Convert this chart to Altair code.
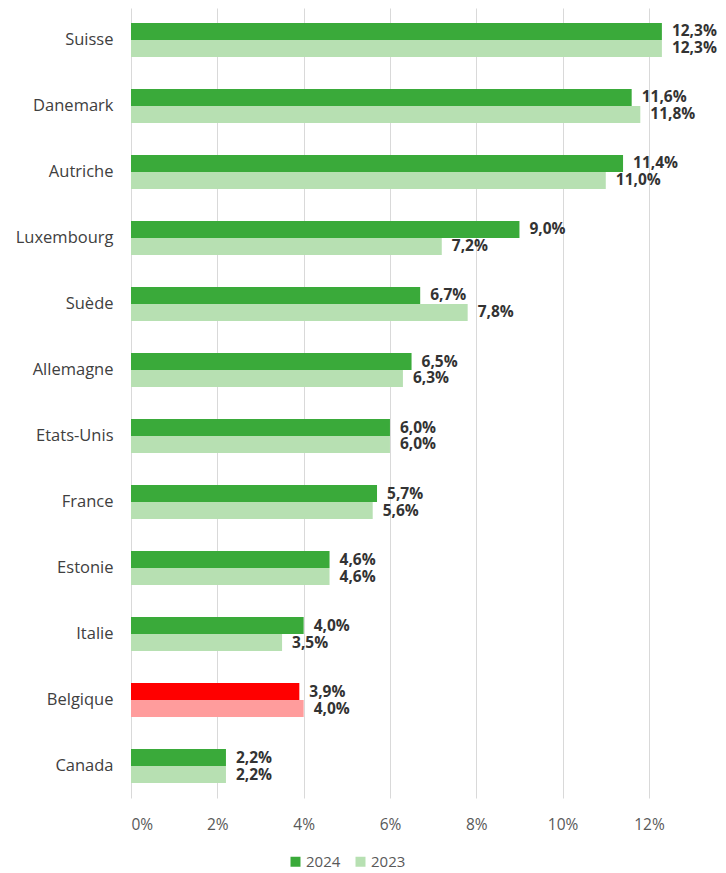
import altair as alt
import pandas as pd

countries = ["Suisse", "Danemark", "Autriche", "Luxembourg", "Suède", "Allemagne",
             "Etats-Unis", "France", "Estonie", "Italie", "Belgique", "Canada"]
v2024 = [12.3, 11.6, 11.4, 9.0, 6.7, 6.5, 6.0, 5.7, 4.6, 4.0, 3.9, 2.2]
v2023 = [12.3, 11.8, 11.0, 7.2, 7.8, 6.3, 6.0, 5.6, 4.6, 3.5, 4.0, 2.2]
series = ["2024", "2023"]
highlight = "Belgique"

rows = []
for c, a, b in zip(countries, v2024, v2023):
    for s, v in zip(series, [a, b]):
        key = s + (" BE" if c == highlight else "")
        rows.append({"pays": c, "annee": s, "valeur": v, "cle": key})
df = pd.DataFrame(rows)

FONT = "Open Sans"

y_scale = alt.Scale(domain=countries, paddingInner=0.485, paddingOuter=0.227)

base = alt.Chart(df).encode(
    y=alt.Y("pays:N", sort=countries, scale=y_scale,
            axis=alt.Axis(title=None, ticks=False, domain=False, labelFontSize=16.5,
                          labelColor="#404040", labelPadding=18, labelFont=FONT,
                          minExtent=123, maxExtent=123)),
    yOffset=alt.YOffset("annee:N", sort=series, scale=alt.Scale(domain=series, paddingInner=0)),
)

bars = base.mark_bar().encode(
    x=alt.X("valeur:Q", scale=alt.Scale(domain=[0, 13.6], nice=False),
            axis=alt.Axis(title=None, values=[0, 2, 4, 6, 8, 10, 12],
                          labelExpr="datum.value + '%'", ticks=False, domain=False,
                          grid=True, gridColor="#d9d9d9", gridWidth=1,
                          labelFontSize=15.5, labelColor="#595959", labelPadding=19,
                          labelFont=FONT)),
    color=alt.Color("cle:N",
                    scale=alt.Scale(domain=["2024", "2023", "2024 BE", "2023 BE"],
                                    range=["#3aaa3a", "#b7e0b2", "#ff0000", "#ff9c9c"]),
                    legend=alt.Legend(title=None, values=["2024", "2023"], orient="none",
                                      direction="horizontal", legendX=157, legendY=846,
                                      symbolType="square", symbolSize=100,
                                      symbolStrokeWidth=0, labelFontSize=15,
                                      labelColor="#595959", labelFont=FONT,
                                      columnPadding=12, labelOffset=3)),
)

labels = base.transform_calculate(
    lab="replace(format(datum.valeur, '.1f'), '.', ',') + '%'"
).mark_text(align="left", baseline="middle", dx=10, fontSize=15.5, fontWeight="bold",
            color="#333333", font=FONT).encode(
    x="valeur:Q",
    text="lab:N",
)

chart = (bars + labels).properties(width=587, height=790, padding=0).configure_view(
    stroke=None
)

chart.save("out.html", embed_options={"renderer": "svg", "actions": False})
